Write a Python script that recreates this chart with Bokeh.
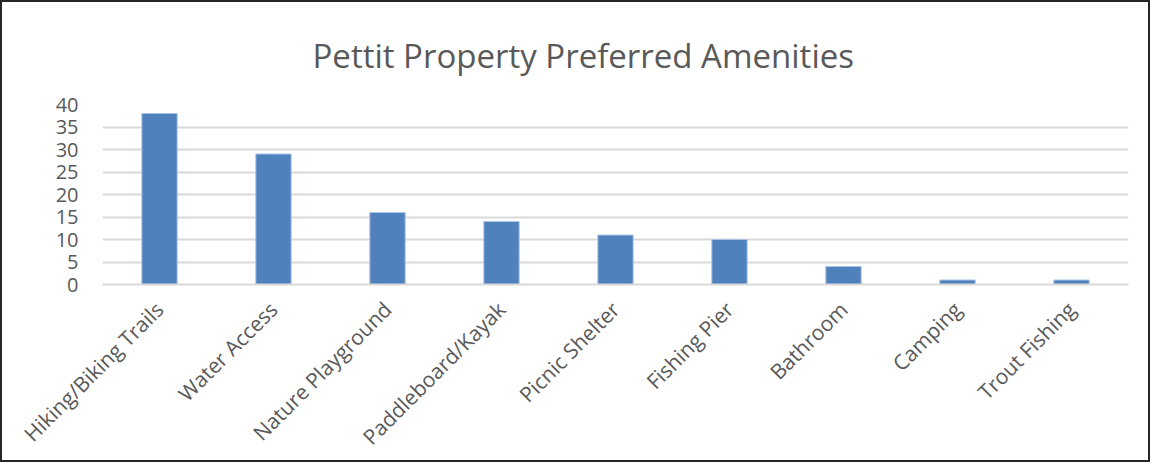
import math
from bokeh.plotting import figure
from bokeh.models import ColumnDataSource, FixedTicker, Range1d
from bokeh.embed import file_html
from bokeh.resources import INLINE

categories = ["Hiking/Biking Trails", "Water Access", "Nature Playground",
              "Paddleboard/Kayak", "Picnic Shelter", "Fishing Pier",
              "Bathroom", "Camping", "Trout Fishing"]
counts = [38, 29, 16, 14, 11, 10, 4, 1, 1]
y_ticks = [0, 5, 10, 15, 20, 25, 30, 35, 40]

TEXT = "#595959"
FONT = "Open Sans"

source = ColumnDataSource(dict(cat=categories, val=counts))

p = figure(x_range=categories, y_range=Range1d(0, 40),
           width=1150, height=462, output_backend="svg",
           toolbar_location=None, title="Pettit Property Preferred Amenities",
           min_border_left=100, min_border_right=24, min_border_top=102,
           min_border_bottom=180)

p.vbar(x="cat", top="val", width=0.31, source=source,
       fill_color="#4F81BD", line_color="#A9C4E6", line_width=1)

p.title.align = "left"
p.title.offset = 210
p.title.text_font = FONT
p.title.text_font_size = "33px"
p.title.text_font_style = "normal"
p.title.text_color = TEXT
p.title.standoff = 54

p.outline_line_color = None
p.xgrid.grid_line_color = None
p.ygrid.grid_line_color = "#D9D9D9"
p.ygrid.grid_line_width = 2

p.yaxis.ticker = FixedTicker(ticks=y_ticks)
p.yaxis.axis_line_color = None
p.yaxis.major_tick_line_color = None
p.yaxis.minor_tick_line_color = None
p.yaxis.major_label_text_font = FONT
p.yaxis.major_label_text_font_size = "20px"
p.yaxis.major_label_text_color = TEXT
p.yaxis.major_label_standoff = 18

p.xaxis.axis_line_color = "#D9D9D9"
p.xaxis.axis_line_width = 2
p.xaxis.major_tick_line_color = None
p.xaxis.minor_tick_line_color = None
p.xaxis.major_label_orientation = math.pi / 4
p.xaxis.major_label_text_font = FONT
p.xaxis.major_label_text_font_size = "21px"
p.xaxis.major_label_text_color = TEXT
p.xaxis.major_label_standoff = 15

p.x_range.range_padding = 0.0

p.styles = {"border": "2px solid #262626", "box-sizing": "border-box"}

open("out.html", "w").write(file_html(p, INLINE))
